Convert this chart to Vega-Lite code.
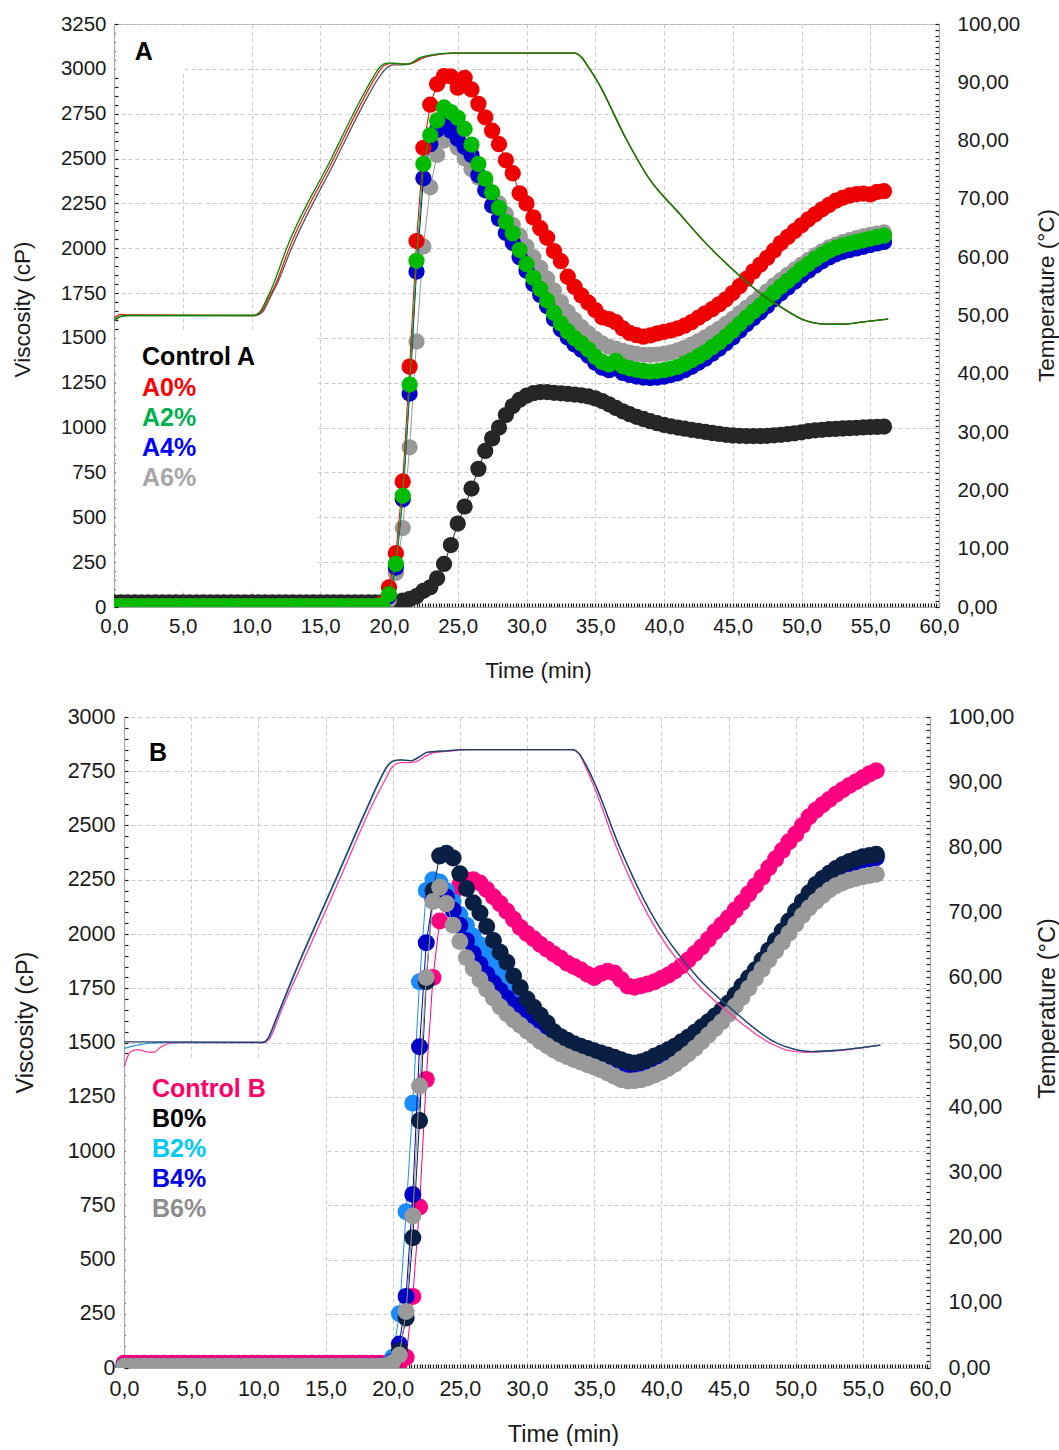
{
"$schema":"https://vega.github.io/schema/vega-lite/v6.json",
"background":"white",
"padding":{"left":10,"top":13,"right":0,"bottom":0},
"columns":1,"bounds":"full","spacing":23,
"config":{
 "font":"Liberation Sans",
 "view":{"stroke":"#b4b4b4","strokeWidth":1},
 "axis":{"labelColor":"#1a1a1a","titleColor":"#1a1a1a","titleFontWeight":"normal","domainColor":"#a6a6a6","domainWidth":1.2,"tickColor":"#1a1a1a","tickWidth":1.2,"gridColor":"#c8c8c8","gridDash":[4,3],"gridWidth":1,"labelOverlap":false,"labelBound":false}
},
"datasets":{
"visA":[
{"t":0,"C":26,"A0":5,"A2":5,"A4":5,"A6":5},{"t":0.5,"C":26,"A0":5,"A2":5,"A4":5,"A6":5},{"t":1,"C":26,"A0":5,"A2":5,"A4":5,"A6":5},{"t":1.5,"C":26,"A0":5,"A2":5,"A4":5,"A6":5},{"t":2,"C":26,"A0":5,"A2":5,"A4":5,"A6":5},{"t":2.5,"C":26,"A0":5,"A2":5,"A4":5,"A6":5},{"t":3,"C":26,"A0":5,"A2":5,"A4":5,"A6":5},{"t":3.5,"C":26,"A0":5,"A2":5,"A4":5,"A6":5},{"t":4,"C":26,"A0":5,"A2":5,"A4":5,"A6":5},{"t":4.5,"C":26,"A0":5,"A2":5,"A4":5,"A6":5},
{"t":5,"C":26,"A0":5,"A2":5,"A4":5,"A6":5},{"t":5.5,"C":26,"A0":5,"A2":5,"A4":5,"A6":5},{"t":6,"C":26,"A0":5,"A2":5,"A4":5,"A6":5},{"t":6.5,"C":26,"A0":5,"A2":5,"A4":5,"A6":5},{"t":7,"C":26,"A0":5,"A2":5,"A4":5,"A6":5},{"t":7.5,"C":26,"A0":5,"A2":5,"A4":5,"A6":5},{"t":8,"C":26,"A0":5,"A2":5,"A4":5,"A6":5},{"t":8.5,"C":26,"A0":5,"A2":5,"A4":5,"A6":5},{"t":9,"C":26,"A0":5,"A2":5,"A4":5,"A6":5},{"t":9.5,"C":26,"A0":5,"A2":5,"A4":5,"A6":5},
{"t":10,"C":26,"A0":5,"A2":5,"A4":5,"A6":5},{"t":10.5,"C":26,"A0":5,"A2":5,"A4":5,"A6":5},{"t":11,"C":26,"A0":5,"A2":5,"A4":5,"A6":5},{"t":11.5,"C":26,"A0":5,"A2":5,"A4":5,"A6":5},{"t":12,"C":26,"A0":5,"A2":5,"A4":5,"A6":5},{"t":12.5,"C":26,"A0":5,"A2":5,"A4":5,"A6":5},{"t":13,"C":26,"A0":5,"A2":5,"A4":5,"A6":5},{"t":13.5,"C":26,"A0":5,"A2":5,"A4":5,"A6":5},{"t":14,"C":26,"A0":5,"A2":5,"A4":5,"A6":5},{"t":14.5,"C":26,"A0":5,"A2":5,"A4":5,"A6":5},
{"t":15,"C":26,"A0":5,"A2":5,"A4":5,"A6":5},{"t":15.5,"C":26,"A0":5,"A2":5,"A4":5,"A6":5},{"t":16,"C":26,"A0":5,"A2":5,"A4":5,"A6":5},{"t":16.5,"C":26,"A0":5,"A2":5,"A4":5,"A6":5},{"t":17,"C":26,"A0":5,"A2":5,"A4":5,"A6":5},{"t":17.5,"C":26,"A0":5,"A2":5,"A4":5,"A6":5},{"t":18,"C":26,"A0":5,"A2":5,"A4":5,"A6":5},{"t":18.5,"C":26,"A0":5,"A2":5,"A4":5,"A6":5},{"t":19,"C":26,"A0":5,"A2":5,"A4":5,"A6":5},
{"t":19.5,"C":26,"A0":20,"A2":10,"A4":5,"A6":10},
{"t":20,"C":26,"A0":110,"A2":70,"A4":60,"A6":40},
{"t":20.5,"C":27,"A0":300,"A2":240,"A4":220,"A6":190},
{"t":21,"C":35,"A0":700,"A2":620,"A4":600,"A6":440},
{"t":21.5,"C":45,"A0":1340,"A2":1240,"A4":1190,"A6":890},
{"t":22,"C":60,"A0":2040,"A2":1930,"A4":1870,"A6":1480},
{"t":22.5,"C":90,"A0":2560,"A2":2470,"A4":2390,"A6":2010},
{"t":23,"C":110,"A0":2800,"A2":2630,"A4":2580,"A6":2340},
{"t":23.5,"C":160,"A0":2915,"A2":2712,"A4":2660,"A6":2520},
{"t":24,"C":240,"A0":2960,"A2":2785,"A4":2700,"A6":2600},
{"t":24.5,"C":345,"A0":2958,"A2":2759,"A4":2655,"A6":2612},
{"t":25,"C":465,"A0":2895,"A2":2727,"A4":2610,"A6":2560},
{"t":25.5,"C":560,"A0":2950,"A2":2665,"A4":2565,"A6":2500},
{"t":26,"C":660,"A0":2885,"A2":2578,"A4":2520,"A6":2440},
{"t":26.5,"C":770,"A0":2805,"A2":2469,"A4":2408,"A6":2395},
{"t":27,"C":870,"A0":2730,"A2":2388,"A4":2323,"A6":2360},
{"t":27.5,"C":940,"A0":2655,"A2":2311,"A4":2238,"A6":2305},
{"t":28,"C":1000,"A0":2580,"A2":2225,"A4":2165,"A6":2250},
{"t":28.5,"C":1070,"A0":2490,"A2":2147,"A4":2085,"A6":2190},
{"t":29,"C":1120,"A0":2418,"A2":2083,"A4":2030,"A6":2130},
{"t":29.5,"C":1155,"A0":2306,"A2":1990,"A4":1950,"A6":2070},
{"t":30,"C":1178,"A0":2250,"A2":1911,"A4":1875,"A6":2010},
{"t":30.5,"C":1192,"A0":2172,"A2":1835,"A4":1800,"A6":1950},
{"t":31,"C":1198,"A0":2112,"A2":1773,"A4":1740,"A6":1890},
{"t":31.5,"C":1198,"A0":2058,"A2":1709,"A4":1676,"A6":1830},
{"t":32,"C":1194,"A0":1984,"A2":1639,"A4":1606,"A6":1765},
{"t":32.5,"C":1191,"A0":1928,"A2":1581,"A4":1548,"A6":1700},
{"t":33,"C":1188,"A0":1841,"A2":1536,"A4":1502,"A6":1645},
{"t":33.5,"C":1184,"A0":1784,"A2":1498,"A4":1463,"A6":1600},
{"t":34,"C":1180,"A0":1737,"A2":1469,"A4":1434,"A6":1560},
{"t":34.5,"C":1174,"A0":1696,"A2":1435,"A4":1400,"A6":1525},
{"t":35,"C":1163,"A0":1655,"A2":1395,"A4":1362,"A6":1495},
{"t":35.5,"C":1148,"A0":1615,"A2":1366,"A4":1334,"A6":1470},
{"t":36,"C":1130,"A0":1605,"A2":1352,"A4":1320,"A6":1450},
{"t":36.5,"C":1110,"A0":1588,"A2":1372,"A4":1330,"A6":1440},
{"t":37,"C":1091,"A0":1553,"A2":1342,"A4":1305,"A6":1428},
{"t":37.5,"C":1075,"A0":1528,"A2":1331,"A4":1294,"A6":1418},
{"t":38,"C":1060,"A0":1515,"A2":1322,"A4":1285,"A6":1411},
{"t":38.5,"C":1048,"A0":1507,"A2":1316,"A4":1279,"A6":1406},
{"t":39,"C":1036,"A0":1514,"A2":1312,"A4":1276,"A6":1405},
{"t":39.5,"C":1025,"A0":1525,"A2":1315,"A4":1279,"A6":1407},
{"t":40,"C":1015,"A0":1534,"A2":1320,"A4":1284,"A6":1412},
{"t":40.5,"C":1007,"A0":1542,"A2":1329,"A4":1293,"A6":1420},
{"t":41,"C":1000,"A0":1553,"A2":1339,"A4":1303,"A6":1430},
{"t":41.5,"C":994,"A0":1568,"A2":1356,"A4":1320,"A6":1445},
{"t":42,"C":988,"A0":1588,"A2":1375,"A4":1339,"A6":1462},
{"t":42.5,"C":982,"A0":1613,"A2":1397,"A4":1361,"A6":1482},
{"t":43,"C":976,"A0":1637,"A2":1420,"A4":1384,"A6":1503},
{"t":43.5,"C":970,"A0":1660,"A2":1448,"A4":1412,"A6":1527},
{"t":44,"C":965,"A0":1687,"A2":1475,"A4":1439,"A6":1551},
{"t":44.5,"C":960,"A0":1715,"A2":1507,"A4":1470,"A6":1578},
{"t":45,"C":956,"A0":1750,"A2":1540,"A4":1503,"A6":1606},
{"t":45.5,"C":954,"A0":1788,"A2":1577,"A4":1540,"A6":1637},
{"t":46,"C":953,"A0":1829,"A2":1613,"A4":1576,"A6":1668},
{"t":46.5,"C":953,"A0":1871,"A2":1647,"A4":1610,"A6":1698},
{"t":47,"C":953,"A0":1909,"A2":1680,"A4":1643,"A6":1728},
{"t":47.5,"C":954,"A0":1946,"A2":1715,"A4":1678,"A6":1760},
{"t":48,"C":957,"A0":1987,"A2":1752,"A4":1715,"A6":1792},
{"t":48.5,"C":960,"A0":2029,"A2":1786,"A4":1749,"A6":1822},
{"t":49,"C":964,"A0":2063,"A2":1818,"A4":1781,"A6":1852},
{"t":49.5,"C":968,"A0":2096,"A2":1850,"A4":1813,"A6":1880},
{"t":50,"C":974,"A0":2128,"A2":1883,"A4":1846,"A6":1908},
{"t":50.5,"C":980,"A0":2161,"A2":1912,"A4":1875,"A6":1935},
{"t":51,"C":985,"A0":2189,"A2":1940,"A4":1903,"A6":1960},
{"t":51.5,"C":988,"A0":2217,"A2":1964,"A4":1927,"A6":1983},
{"t":52,"C":991,"A0":2241,"A2":1986,"A4":1949,"A6":2004},
{"t":52.5,"C":993,"A0":2265,"A2":2003,"A4":1966,"A6":2020},
{"t":53,"C":995,"A0":2281,"A2":2016,"A4":1980,"A6":2034},
{"t":53.5,"C":997,"A0":2294,"A2":2026,"A4":1990,"A6":2045},
{"t":54,"C":999,"A0":2301,"A2":2035,"A4":1999,"A6":2056},
{"t":54.5,"C":1001,"A0":2305,"A2":2044,"A4":2008,"A6":2066},
{"t":55,"C":1003,"A0":2300,"A2":2053,"A4":2018,"A6":2074},
{"t":55.5,"C":1004,"A0":2314,"A2":2062,"A4":2027,"A6":2082},
{"t":56,"C":1006,"A0":2318,"A2":2070,"A4":2035,"A6":2088}
],
"visB":[
{"t":0,"C":22,"B0":8,"B2":8,"B4":8,"B6":8},{"t":0.5,"C":22,"B0":8,"B2":8,"B4":8,"B6":8},{"t":1,"C":22,"B0":8,"B2":8,"B4":8,"B6":8},{"t":1.5,"C":22,"B0":8,"B2":8,"B4":8,"B6":8},{"t":2,"C":22,"B0":8,"B2":8,"B4":8,"B6":8},{"t":2.5,"C":22,"B0":8,"B2":8,"B4":8,"B6":8},{"t":3,"C":22,"B0":8,"B2":8,"B4":8,"B6":8},{"t":3.5,"C":22,"B0":8,"B2":8,"B4":8,"B6":8},{"t":4,"C":22,"B0":8,"B2":8,"B4":8,"B6":8},{"t":4.5,"C":22,"B0":8,"B2":8,"B4":8,"B6":8},
{"t":5,"C":22,"B0":8,"B2":8,"B4":8,"B6":8},{"t":5.5,"C":22,"B0":8,"B2":8,"B4":8,"B6":8},{"t":6,"C":22,"B0":8,"B2":8,"B4":8,"B6":8},{"t":6.5,"C":22,"B0":8,"B2":8,"B4":8,"B6":8},{"t":7,"C":22,"B0":8,"B2":8,"B4":8,"B6":8},{"t":7.5,"C":22,"B0":8,"B2":8,"B4":8,"B6":8},{"t":8,"C":22,"B0":8,"B2":8,"B4":8,"B6":8},{"t":8.5,"C":22,"B0":8,"B2":8,"B4":8,"B6":8},{"t":9,"C":22,"B0":8,"B2":8,"B4":8,"B6":8},{"t":9.5,"C":22,"B0":8,"B2":8,"B4":8,"B6":8},
{"t":10,"C":22,"B0":8,"B2":8,"B4":8,"B6":8},{"t":10.5,"C":22,"B0":8,"B2":8,"B4":8,"B6":8},{"t":11,"C":22,"B0":8,"B2":8,"B4":8,"B6":8},{"t":11.5,"C":22,"B0":8,"B2":8,"B4":8,"B6":8},{"t":12,"C":22,"B0":8,"B2":8,"B4":8,"B6":8},{"t":12.5,"C":22,"B0":8,"B2":8,"B4":8,"B6":8},{"t":13,"C":22,"B0":8,"B2":8,"B4":8,"B6":8},{"t":13.5,"C":22,"B0":8,"B2":8,"B4":8,"B6":8},{"t":14,"C":22,"B0":8,"B2":8,"B4":8,"B6":8},{"t":14.5,"C":22,"B0":8,"B2":8,"B4":8,"B6":8},
{"t":15,"C":22,"B0":8,"B2":8,"B4":8,"B6":8},{"t":15.5,"C":22,"B0":8,"B2":8,"B4":8,"B6":8},{"t":16,"C":22,"B0":8,"B2":8,"B4":8,"B6":8},{"t":16.5,"C":22,"B0":8,"B2":8,"B4":8,"B6":8},{"t":17,"C":22,"B0":8,"B2":8,"B4":8,"B6":8},{"t":17.5,"C":22,"B0":8,"B2":8,"B4":8,"B6":8},{"t":18,"C":22,"B0":8,"B2":8,"B4":8,"B6":8},{"t":18.5,"C":22,"B0":8,"B2":8,"B4":8,"B6":8},{"t":19,"C":22,"B0":8,"B2":8,"B4":8,"B6":8},
{"t":19.5,"C":22,"B0":10,"B2":12,"B4":10,"B6":10},
{"t":20,"C":22,"B0":20,"B2":50,"B4":30,"B6":25},
{"t":20.5,"C":24,"B0":80,"B2":250,"B4":110,"B6":60},
{"t":21,"C":50,"B0":230,"B2":720,"B4":330,"B6":260},
{"t":21.5,"C":330,"B0":600,"B2":1220,"B4":800,"B6":700},
{"t":22,"C":742,"B0":1140,"B2":1780,"B4":1480,"B6":1300},
{"t":22.5,"C":1330,"B0":1780,"B2":2200,"B4":1960,"B6":1800},
{"t":23,"C":1800,"B0":2200,"B2":2250,"B4":2160,"B6":2150},
{"t":23.5,"C":2060,"B0":2360,"B2":2240,"B4":2200,"B6":2215},
{"t":24,"C":2140,"B0":2372,"B2":2200,"B4":2170,"B6":2140},
{"t":24.5,"C":2190,"B0":2350,"B2":2150,"B4":2110,"B6":2040},
{"t":25,"C":2228,"B0":2278,"B2":2090,"B4":2040,"B6":1965},
{"t":25.5,"C":2248,"B0":2210,"B2":2040,"B4":1970,"B6":1891},
{"t":26,"C":2250,"B0":2144,"B2":1990,"B4":1910,"B6":1840},
{"t":26.5,"C":2235,"B0":2097,"B2":1950,"B4":1860,"B6":1790},
{"t":27,"C":2205,"B0":2035,"B2":1900,"B4":1815,"B6":1745},
{"t":27.5,"C":2172,"B0":1970,"B2":1850,"B4":1775,"B6":1705},
{"t":28,"C":2140,"B0":1916,"B2":1805,"B4":1740,"B6":1665},
{"t":28.5,"C":2105,"B0":1870,"B2":1765,"B4":1705,"B6":1633},
{"t":29,"C":2068,"B0":1806,"B2":1725,"B4":1675,"B6":1605},
{"t":29.5,"C":2030,"B0":1753,"B2":1688,"B4":1645,"B6":1580},
{"t":30,"C":2002,"B0":1700,"B2":1652,"B4":1618,"B6":1553},
{"t":30.5,"C":1978,"B0":1662,"B2":1620,"B4":1592,"B6":1530},
{"t":31,"C":1952,"B0":1626,"B2":1590,"B4":1566,"B6":1505},
{"t":31.5,"C":1930,"B0":1590,"B2":1562,"B4":1543,"B6":1485},
{"t":32,"C":1908,"B0":1550,"B2":1535,"B4":1522,"B6":1465},
{"t":32.5,"C":1888,"B0":1527,"B2":1515,"B4":1505,"B6":1448},
{"t":33,"C":1865,"B0":1510,"B2":1500,"B4":1490,"B6":1434},
{"t":33.5,"C":1850,"B0":1494,"B2":1485,"B4":1478,"B6":1422},
{"t":34,"C":1835,"B0":1483,"B2":1475,"B4":1467,"B6":1410},
{"t":34.5,"C":1815,"B0":1472,"B2":1464,"B4":1457,"B6":1398},
{"t":35,"C":1800,"B0":1462,"B2":1454,"B4":1447,"B6":1387},
{"t":35.5,"C":1818,"B0":1452,"B2":1444,"B4":1437,"B6":1374},
{"t":36,"C":1828,"B0":1442,"B2":1434,"B4":1427,"B6":1360},
{"t":36.5,"C":1820,"B0":1432,"B2":1424,"B4":1416,"B6":1345},
{"t":37,"C":1790,"B0":1420,"B2":1412,"B4":1405,"B6":1330},
{"t":37.5,"C":1760,"B0":1410,"B2":1402,"B4":1395,"B6":1323},
{"t":38,"C":1755,"B0":1406,"B2":1398,"B4":1392,"B6":1324},
{"t":38.5,"C":1762,"B0":1411,"B2":1403,"B4":1397,"B6":1328},
{"t":39,"C":1770,"B0":1422,"B2":1414,"B4":1408,"B6":1338},
{"t":39.5,"C":1780,"B0":1438,"B2":1430,"B4":1423,"B6":1350},
{"t":40,"C":1795,"B0":1452,"B2":1444,"B4":1437,"B6":1364},
{"t":40.5,"C":1810,"B0":1467,"B2":1459,"B4":1452,"B6":1380},
{"t":41,"C":1830,"B0":1483,"B2":1475,"B4":1468,"B6":1400},
{"t":41.5,"C":1853,"B0":1503,"B2":1495,"B4":1488,"B6":1424},
{"t":42,"C":1880,"B0":1524,"B2":1516,"B4":1509,"B6":1447},
{"t":42.5,"C":1910,"B0":1547,"B2":1539,"B4":1532,"B6":1474},
{"t":43,"C":1940,"B0":1571,"B2":1563,"B4":1556,"B6":1503},
{"t":43.5,"C":1975,"B0":1596,"B2":1588,"B4":1581,"B6":1534},
{"t":44,"C":2010,"B0":1622,"B2":1614,"B4":1607,"B6":1565},
{"t":44.5,"C":2042,"B0":1650,"B2":1642,"B4":1635,"B6":1596},
{"t":45,"C":2075,"B0":1682,"B2":1674,"B4":1667,"B6":1630},
{"t":45.5,"C":2110,"B0":1720,"B2":1712,"B4":1705,"B6":1668},
{"t":46,"C":2145,"B0":1760,"B2":1752,"B4":1745,"B6":1708},
{"t":46.5,"C":2185,"B0":1798,"B2":1790,"B4":1783,"B6":1750},
{"t":47,"C":2222,"B0":1835,"B2":1827,"B4":1820,"B6":1795},
{"t":47.5,"C":2262,"B0":1880,"B2":1872,"B4":1865,"B6":1838},
{"t":48,"C":2305,"B0":1925,"B2":1917,"B4":1910,"B6":1880},
{"t":48.5,"C":2345,"B0":1970,"B2":1962,"B4":1955,"B6":1922},
{"t":49,"C":2385,"B0":2014,"B2":2006,"B4":1999,"B6":1962},
{"t":49.5,"C":2425,"B0":2060,"B2":2052,"B4":2045,"B6":2003},
{"t":50,"C":2460,"B0":2106,"B2":2098,"B4":2091,"B6":2045},
{"t":50.5,"C":2500,"B0":2150,"B2":2142,"B4":2135,"B6":2085},
{"t":51,"C":2540,"B0":2190,"B2":2182,"B4":2175,"B6":2120},
{"t":51.5,"C":2570,"B0":2228,"B2":2220,"B4":2213,"B6":2150},
{"t":52,"C":2596,"B0":2256,"B2":2248,"B4":2241,"B6":2178},
{"t":52.5,"C":2620,"B0":2280,"B2":2272,"B4":2265,"B6":2203},
{"t":53,"C":2644,"B0":2302,"B2":2294,"B4":2287,"B6":2222},
{"t":53.5,"C":2665,"B0":2320,"B2":2312,"B4":2305,"B6":2236},
{"t":54,"C":2684,"B0":2334,"B2":2326,"B4":2319,"B6":2248},
{"t":54.5,"C":2702,"B0":2346,"B2":2338,"B4":2331,"B6":2256},
{"t":55,"C":2720,"B0":2356,"B2":2348,"B4":2341,"B6":2264},
{"t":55.5,"C":2738,"B0":2362,"B2":2354,"B4":2347,"B6":2270},
{"t":56,"C":2752,"B0":2367,"B2":2360,"B4":2352,"B6":2275}
],
"tempA":[
{"s":"k","t":0,"T":49.0},{"s":"k","t":0.5,"T":49.8},{"s":"k","t":1,"T":50.0},{"s":"k","t":10.3,"T":50.0},{"s":"k","t":10.8,"T":50.6},{"s":"k","t":11.3,"T":52.8},{"s":"k","t":11.9,"T":55.6},{"s":"k","t":12.85,"T":61.2},{"s":"k","t":16.1,"T":76.6},{"s":"k","t":18.3,"T":86.9},{"s":"k","t":19.2,"T":90.6},{"s":"k","t":19.9,"T":92.6},{"s":"k","t":20.4,"T":93.0},{"s":"k","t":21.0,"T":93.0},{"s":"k","t":21.6,"T":93.2},{"s":"k","t":22.2,"T":93.9},{"s":"k","t":22.9,"T":94.5},{"s":"k","t":24.8,"T":95.0},
{"s":"k","t":33.5,"T":95.0},{"s":"k","t":34.0,"T":94.3},{"s":"k","t":34.5,"T":92.6},{"s":"k","t":35.2,"T":90.0},{"s":"k","t":37.2,"T":80.5},{"s":"k","t":39.0,"T":73.2},{"s":"k","t":41.0,"T":67.8},{"s":"k","t":43.0,"T":62.5},{"s":"k","t":45.6,"T":56.6},{"s":"k","t":47.0,"T":53.8},{"s":"k","t":48.6,"T":51.3},{"s":"k","t":50.2,"T":49.2},{"s":"k","t":51.8,"T":48.5},{"s":"k","t":53.0,"T":48.5},{"s":"k","t":54.5,"T":48.9},{"s":"k","t":56.3,"T":49.4},
{"s":"r","t":0,"T":49.6},{"s":"r","t":0.5,"T":50.2},{"s":"r","t":1,"T":50.1},{"s":"r","t":10.2,"T":50.0},{"s":"r","t":10.7,"T":50.6},{"s":"r","t":11.2,"T":52.8},{"s":"r","t":11.8,"T":55.6},{"s":"r","t":12.7,"T":61.3},{"s":"r","t":15.95,"T":76.8},{"s":"r","t":18.15,"T":87.2},{"s":"r","t":19.0,"T":90.8},{"s":"r","t":19.6,"T":92.8},{"s":"r","t":20.1,"T":93.2},{"s":"r","t":20.7,"T":93.2},{"s":"r","t":21.3,"T":93.1},{"s":"r","t":21.9,"T":93.5},{"s":"r","t":22.5,"T":94.3},{"s":"r","t":23.3,"T":94.7},{"s":"r","t":24.6,"T":95.0},
{"s":"r","t":33.5,"T":95.0},{"s":"r","t":34.0,"T":94.3},{"s":"r","t":34.5,"T":92.6},{"s":"r","t":35.2,"T":90.0},{"s":"r","t":37.2,"T":80.5},{"s":"r","t":39.0,"T":73.2},{"s":"r","t":41.0,"T":67.8},{"s":"r","t":43.0,"T":62.5},{"s":"r","t":45.6,"T":56.6},{"s":"r","t":47.0,"T":53.8},{"s":"r","t":48.6,"T":51.3},{"s":"r","t":50.2,"T":49.2},{"s":"r","t":51.8,"T":48.5},{"s":"r","t":53.0,"T":48.5},{"s":"r","t":54.5,"T":48.9},{"s":"r","t":56.3,"T":49.4},
{"s":"g","t":0,"T":49.3},{"s":"g","t":0.5,"T":49.9},{"s":"g","t":1,"T":50.0},{"s":"g","t":10.1,"T":50.0},{"s":"g","t":10.6,"T":50.6},{"s":"g","t":11.1,"T":52.8},{"s":"g","t":11.6,"T":55.4},{"s":"g","t":12.55,"T":61.5},{"s":"g","t":15.8,"T":76.9},{"s":"g","t":18.0,"T":87.3},{"s":"g","t":18.85,"T":90.9},{"s":"g","t":19.4,"T":92.8},{"s":"g","t":19.85,"T":93.3},{"s":"g","t":20.4,"T":93.3},{"s":"g","t":21.1,"T":93.1},{"s":"g","t":21.6,"T":93.3},{"s":"g","t":22.2,"T":94.2},{"s":"g","t":22.9,"T":94.6},{"s":"g","t":24.5,"T":95.0},
{"s":"g","t":33.5,"T":95.0},{"s":"g","t":34.0,"T":94.3},{"s":"g","t":34.5,"T":92.6},{"s":"g","t":35.2,"T":90.0},{"s":"g","t":37.2,"T":80.5},{"s":"g","t":39.0,"T":73.2},{"s":"g","t":41.0,"T":67.8},{"s":"g","t":43.0,"T":62.5},{"s":"g","t":45.6,"T":56.6},{"s":"g","t":47.0,"T":53.8},{"s":"g","t":48.6,"T":51.3},{"s":"g","t":50.2,"T":49.2},{"s":"g","t":51.8,"T":48.5},{"s":"g","t":53.0,"T":48.5},{"s":"g","t":54.5,"T":48.9},{"s":"g","t":56.3,"T":49.4}
],
"tempB":[
{"s":"p","t":0,"T":46.3},{"s":"p","t":0.5,"T":48.6},{"s":"p","t":1,"T":48.9},{"s":"p","t":1.6,"T":48.6},{"s":"p","t":2.2,"T":48.5},{"s":"p","t":2.8,"T":49.4},{"s":"p","t":3.5,"T":49.9},{"s":"p","t":4.2,"T":50.0},{"s":"p","t":10.4,"T":50.0},{"s":"p","t":10.85,"T":50.6},{"s":"p","t":11.35,"T":53.0},{"s":"p","t":11.85,"T":55.6},{"s":"p","t":12.85,"T":60.2},{"s":"p","t":16.1,"T":75.3},{"s":"p","t":18.5,"T":86.6},{"s":"p","t":19.4,"T":90.2},{"s":"p","t":20.0,"T":92.4},{"s":"p","t":20.6,"T":93.0},{"s":"p","t":21.2,"T":93.0},{"s":"p","t":21.7,"T":93.1},{"s":"p","t":22.3,"T":93.8},{"s":"p","t":23.0,"T":94.5},{"s":"p","t":24.5,"T":94.8},{"s":"p","t":25.6,"T":95.0},
{"s":"p","t":33.4,"T":95.0},{"s":"p","t":33.85,"T":94.4},{"s":"p","t":34.3,"T":92.6},{"s":"p","t":34.9,"T":89.8},{"s":"p","t":36.7,"T":79.8},{"s":"p","t":39.0,"T":69.6},{"s":"p","t":42.4,"T":59.6},{"s":"p","t":45.0,"T":54.6},{"s":"p","t":48.2,"T":49.8},{"s":"p","t":49.6,"T":48.7},{"s":"p","t":50.8,"T":48.5},{"s":"p","t":53.0,"T":48.7},{"s":"p","t":56.3,"T":49.6},
{"s":"l","t":0,"T":49.1},{"s":"l","t":1,"T":49.6},{"s":"l","t":2,"T":49.9},{"s":"l","t":3,"T":50.0},{"s":"l","t":10.3,"T":50.0},{"s":"l","t":10.75,"T":50.6},{"s":"l","t":11.25,"T":53.0},{"s":"l","t":11.75,"T":55.6},{"s":"l","t":12.65,"T":60.2},{"s":"l","t":15.85,"T":75.3},{"s":"l","t":18.25,"T":86.6},{"s":"l","t":19.05,"T":90.2},{"s":"l","t":19.65,"T":92.5},{"s":"l","t":20.15,"T":93.3},{"s":"l","t":20.65,"T":93.4},{"s":"l","t":21.45,"T":93.3},{"s":"l","t":21.95,"T":93.8},{"s":"l","t":22.65,"T":94.6},{"s":"l","t":24.0,"T":94.8},{"s":"l","t":25.2,"T":95.0},
{"s":"l","t":33.4,"T":95.0},{"s":"l","t":33.9,"T":94.3},{"s":"l","t":34.4,"T":92.6},{"s":"l","t":35.0,"T":90.0},{"s":"l","t":36.9,"T":80.0},{"s":"l","t":39.2,"T":70.0},{"s":"l","t":42.7,"T":60.0},{"s":"l","t":45.3,"T":55.0},{"s":"l","t":48.5,"T":50.0},{"s":"l","t":50.0,"T":48.9},{"s":"l","t":51.2,"T":48.6},{"s":"l","t":53.0,"T":48.8},{"s":"l","t":56.3,"T":49.6},
{"s":"n","t":0,"T":50.1},{"s":"n","t":0.5,"T":50.1},{"s":"n","t":10.3,"T":50.0},{"s":"n","t":10.7,"T":50.6},{"s":"n","t":11.2,"T":53.0},{"s":"n","t":11.7,"T":55.6},{"s":"n","t":12.6,"T":60.2},{"s":"n","t":15.8,"T":75.3},{"s":"n","t":18.2,"T":86.6},{"s":"n","t":19.0,"T":90.2},{"s":"n","t":19.6,"T":92.5},{"s":"n","t":20.1,"T":93.3},{"s":"n","t":20.6,"T":93.4},{"s":"n","t":21.4,"T":93.3},{"s":"n","t":21.9,"T":93.8},{"s":"n","t":22.6,"T":94.6},{"s":"n","t":24.0,"T":94.8},{"s":"n","t":25.2,"T":95.0},
{"s":"n","t":33.4,"T":95.0},{"s":"n","t":33.9,"T":94.3},{"s":"n","t":34.4,"T":92.6},{"s":"n","t":35.0,"T":90.0},{"s":"n","t":36.9,"T":80.0},{"s":"n","t":39.2,"T":70.0},{"s":"n","t":42.7,"T":60.0},{"s":"n","t":45.3,"T":55.0},{"s":"n","t":48.5,"T":50.0},{"s":"n","t":50.0,"T":48.9},{"s":"n","t":51.2,"T":48.6},{"s":"n","t":53.0,"T":48.8},{"s":"n","t":56.3,"T":49.6}
]
},
"concat":[
{
 "width":825,"height":583,
 "resolve":{"scale":{"y":"independent","color":"independent"}},
 "layer":[
  {
   "encoding":{
    "x":{"field":"t","type":"quantitative","scale":{"domain":[0,60],"nice":false},
     "axis":{"orient":"bottom","title":"Time (min)","titleX":424,"tickCount":300,"labelExpr":"abs(datum.value/5-round(datum.value/5))<0.001 ? replace(format(datum.value,'.1f'),'.',',') : ''","grid":true,"gridOpacity":{"condition":{"test":"abs(datum.value/5-round(datum.value/5))<0.001","value":1},"value":0},"labelFontSize":20.5,"titleFontSize":22.5,"labelPadding":13,"titlePadding":23,"tickSize":-4,"labelFlush":false}},
    "y":{"field":"v","type":"quantitative","scale":{"domain":[0,3250],"nice":false},
     "axis":{"orient":"left","title":"Viscosity (cP)","titleY":285,"tickCount":65,"labelExpr":"datum.value % 250 === 0 ? datum.value : ''","grid":true,"gridOpacity":{"condition":{"test":"datum.value % 250 === 0","value":1},"value":0},"labelFontSize":20.5,"titleFontSize":22.5,"labelPadding":12,"titlePadding":26,"tickSize":-4}}
   },
   "layer":[
    {"data":{"values":[{"t":0.12,"t2":5.1,"v":2985,"v2":3240},{"t":0.12,"t2":14.85,"v":90,"v2":1540}]},
     "mark":{"type":"rect","fill":"white"},"encoding":{"x2":{"field":"t2"},"y2":{"field":"v2"}}},
    {"data":{"name":"visA"},"transform":[{"fold":["C","A6","A4","A0","A2"],"as":["s","v"]}],
     "layer":[
      {"transform":[{"filter":"datum.s==='C'"}],"layer":[{"mark":{"type":"line","color":"#262626","strokeWidth":1,"clip":true}},{"mark":{"type":"point","filled":true,"opacity":1,"size":265,"strokeWidth":0,"color":"#262626","clip":true}}]},
      {"transform":[{"filter":"datum.s==='A6'"}],"layer":[{"mark":{"type":"line","color":"#999999","strokeWidth":1,"clip":true}},{"mark":{"type":"point","filled":true,"opacity":1,"size":265,"strokeWidth":0,"color":"#999999","clip":true}}]},
      {"transform":[{"filter":"datum.s==='A4'"}],"layer":[{"mark":{"type":"line","color":"#0000cc","strokeWidth":1,"clip":true}},{"mark":{"type":"point","filled":true,"opacity":1,"size":265,"strokeWidth":0,"color":"#0000cc","clip":true}}]},
      {"transform":[{"filter":"datum.s==='A0'"}],"layer":[{"mark":{"type":"line","color":"#ee0000","strokeWidth":1,"clip":true}},{"mark":{"type":"point","filled":true,"opacity":1,"size":265,"strokeWidth":0,"color":"#ee0000","clip":true}}]},
      {"transform":[{"filter":"datum.s==='A2'"}],"layer":[{"mark":{"type":"line","color":"#00bb00","strokeWidth":1,"clip":true}},{"mark":{"type":"point","filled":true,"opacity":1,"size":265,"strokeWidth":0,"color":"#00bb00","clip":true}}]}
     ]},
    {"data":{"values":[{"k":"T","label":"A","t":1.5,"v":3094},{"k":"C","label":"Control A","t":2.04,"v":1394},{"k":"A0","label":"A0%","t":2.04,"v":1221},{"k":"A2","label":"A2%","t":2.04,"v":1054},{"k":"A4","label":"A4%","t":2.04,"v":886},{"k":"A6","label":"A6%","t":2.04,"v":719}]},
     "mark":{"type":"text","align":"left","baseline":"middle","fontSize":25,"fontWeight":"bold"},
     "encoding":{"text":{"field":"label"},"color":{"field":"k","type":"nominal","scale":{"domain":["T","C","A0","A2","A4","A6"],"range":["#000000","#000000","#ff0000","#00b050","#0000ff","#a6a6a6"]},"legend":null}}}
   ]
  },
  {"data":{"name":"tempA"},"mark":{"type":"line","strokeWidth":1.3,"interpolate":"monotone","clip":true},
   "encoding":{
    "x":{"field":"t","type":"quantitative","scale":{"domain":[0,60],"nice":false},
     "axis":{"orient":"bottom","title":"Time (min)","titleX":424,"tickCount":300,"labelExpr":"abs(datum.value/5-round(datum.value/5))<0.001 ? replace(format(datum.value,'.1f'),'.',',') : ''","grid":true,"gridOpacity":{"condition":{"test":"abs(datum.value/5-round(datum.value/5))<0.001","value":1},"value":0},"labelFontSize":20.5,"titleFontSize":22.5,"labelPadding":13,"titlePadding":23,"tickSize":-4,"labelFlush":false}},
    "y":{"field":"T","type":"quantitative","scale":{"domain":[0,100],"nice":false},"axis":{"orient":"right","title":"Temperature (°C)","titleY":271,"tickCount":100,"grid":false,"labelExpr":"datum.value % 10 === 0 ? replace(format(datum.value,'.2f'),'.',',') : ''","labelFontSize":20.5,"titleFontSize":22.5,"labelPadding":22,"titlePadding":16,"tickSize":-4,"titleAngle":270,"titleBaseline":"top"}},
    "color":{"field":"s","type":"nominal","scale":{"domain":["k","r","g"],"range":["#555555","#dd2222","#008a00"]},"legend":null}
   }}
 ]
},
{
 "width":816,"height":651,
 "view":{"stroke":null},
 "resolve":{"scale":{"y":"independent","color":"independent"}},
 "layer":[
  {
   "encoding":{
    "x":{"field":"t","type":"quantitative","scale":{"domain":[0,60],"nice":false,"range":[10,816]},
     "axis":{"orient":"bottom","title":"Time (min)","titleX":449,"tickCount":300,"labelExpr":"abs(datum.value/5-round(datum.value/5))<0.001 ? replace(format(datum.value,'.1f'),'.',',') : ''","grid":true,"gridOpacity":{"condition":{"test":"abs(datum.value/5-round(datum.value/5))<0.001","value":1},"value":0},"labelFontSize":21.5,"titleFontSize":23.5,"labelPadding":14,"titlePadding":23,"tickSize":-4,"labelFlush":false}},
    "y":{"field":"v","type":"quantitative","scale":{"domain":[0,3000],"nice":false},
     "axis":{"orient":"left","offset":-10,"title":"Viscosity (cP)","titleY":305,"tickCount":60,"labelExpr":"datum.value % 250 === 0 ? datum.value : ''","grid":true,"gridOpacity":{"condition":{"test":"datum.value % 250 === 0","value":1},"value":0},"labelFontSize":21.5,"titleFontSize":23.5,"labelPadding":13,"titlePadding":30,"tickSize":-4}}
   },
   "layer":[
    {"data":{"values":[{"t":0.12,"t2":14.9,"v":60,"v2":1420}]},
     "mark":{"type":"rect","fill":"white"},"encoding":{"x2":{"field":"t2"},"y2":{"field":"v2"}}},
    {"data":{"values":[{}]},"mark":{"type":"rule","color":"#b4b4b4","strokeWidth":1},
     "encoding":{"x":{"datum":0,"type":"quantitative"},"x2":{"datum":60},"y":{"datum":3000,"type":"quantitative"}}},
    {"data":{"name":"visB"},"transform":[{"fold":["C","B2","B4","B0","B6"],"as":["s","v"]}],
     "layer":[
      {"transform":[{"filter":"datum.s==='C'"}],"layer":[{"mark":{"type":"line","color":"#ff0080","strokeWidth":1,"clip":true}},{"mark":{"type":"point","filled":true,"opacity":1,"size":290,"strokeWidth":0,"color":"#ff0080","clip":true}}]},
      {"transform":[{"filter":"datum.s==='B2'"}],"layer":[{"mark":{"type":"line","color":"#1a8cff","strokeWidth":1,"clip":true}},{"mark":{"type":"point","filled":true,"opacity":1,"size":290,"strokeWidth":0,"color":"#1a8cff","clip":true}}]},
      {"transform":[{"filter":"datum.s==='B4'"}],"layer":[{"mark":{"type":"line","color":"#0000c8","strokeWidth":1,"clip":true}},{"mark":{"type":"point","filled":true,"opacity":1,"size":290,"strokeWidth":0,"color":"#0000c8","clip":true}}]},
      {"transform":[{"filter":"datum.s==='B0'"}],"layer":[{"mark":{"type":"line","color":"#0a1f44","strokeWidth":1,"clip":true}},{"mark":{"type":"point","filled":true,"opacity":1,"size":290,"strokeWidth":0,"color":"#0a1f44","clip":true}}]},
      {"transform":[{"filter":"datum.s==='B6'"}],"layer":[{"mark":{"type":"line","color":"#999999","strokeWidth":1,"clip":true}},{"mark":{"type":"point","filled":true,"opacity":1,"size":290,"strokeWidth":0,"color":"#999999","clip":true}}]}
     ]},
    {"data":{"values":[{"k":"T","label":"B","t":1.86,"v":2834},{"k":"C","label":"Control B","t":2.08,"v":1286},{"k":"B0","label":"B0%","t":2.08,"v":1147},{"k":"B2","label":"B2%","t":2.08,"v":1009},{"k":"B4","label":"B4%","t":2.08,"v":871},{"k":"B6","label":"B6%","t":2.08,"v":733}]},
     "mark":{"type":"text","align":"left","baseline":"middle","fontSize":25,"fontWeight":"bold"},
     "encoding":{"text":{"field":"label"},"color":{"field":"k","type":"nominal","scale":{"domain":["T","C","B0","B2","B4","B6"],"range":["#000000","#ff0066","#000000","#00c8f8","#0000ee","#8c8c8c"]},"legend":null}}}
   ]
  },
  {"data":{"name":"tempB"},"mark":{"type":"line","strokeWidth":1.3,"interpolate":"monotone","clip":true},
   "encoding":{
    "x":{"field":"t","type":"quantitative","scale":{"domain":[0,60],"nice":false,"range":[10,816]},
     "axis":{"orient":"bottom","title":"Time (min)","titleX":449,"tickCount":300,"labelExpr":"abs(datum.value/5-round(datum.value/5))<0.001 ? replace(format(datum.value,'.1f'),'.',',') : ''","grid":true,"gridOpacity":{"condition":{"test":"abs(datum.value/5-round(datum.value/5))<0.001","value":1},"value":0},"labelFontSize":21.5,"titleFontSize":23.5,"labelPadding":14,"titlePadding":23,"tickSize":-4,"labelFlush":false}},
    "y":{"field":"T","type":"quantitative","scale":{"domain":[0,100],"nice":false},"axis":{"orient":"right","title":"Temperature (°C)","titleY":291,"tickCount":100,"grid":false,"labelExpr":"datum.value % 10 === 0 ? replace(format(datum.value,'.2f'),'.',',') : ''","labelFontSize":21.5,"titleFontSize":23.5,"labelPadding":22,"titlePadding":22,"tickSize":-4,"titleAngle":270,"titleBaseline":"top"}},
    "color":{"field":"s","type":"nominal","scale":{"domain":["p","l","n"],"range":["#ff3d9e","#2b9be0","#2a3c5e"]},"legend":null}
   }}
 ]
}
]
}
